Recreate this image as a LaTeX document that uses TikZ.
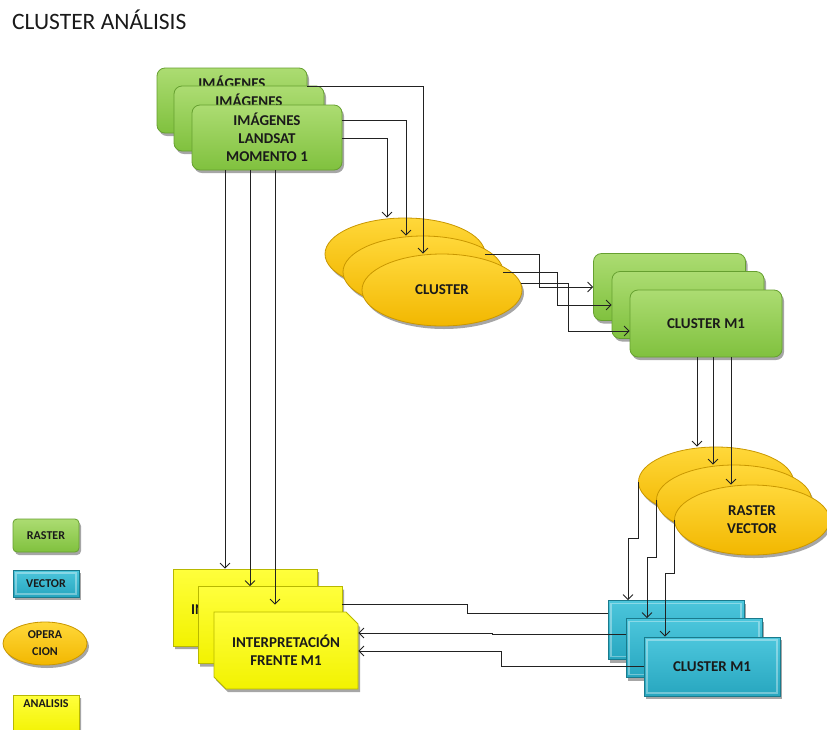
\documentclass[tikz,border=0pt]{standalone}
\usepackage{fontspec}
\setmainfont{Carlito}
\usetikzlibrary{shapes.geometric,shapes.misc,shadows,arrows.meta}
\definecolor{gtop}{HTML}{ACDC72}
\definecolor{gbot}{HTML}{80C13E}
\definecolor{gbrd}{HTML}{66A030}
\definecolor{otop}{HTML}{FFD83A}
\definecolor{obot}{HTML}{F2B700}
\definecolor{obrd}{HTML}{C99700}
\definecolor{ytop}{HTML}{FFFF3C}
\definecolor{ybot}{HTML}{F2F200}
\definecolor{ybrd}{HTML}{B8B800}
\definecolor{btop}{HTML}{4CC6DC}
\definecolor{bbot}{HTML}{27A6BF}
\definecolor{bbrd}{HTML}{1A7A8C}
\definecolor{ink}{HTML}{1A1A1A}
\definecolor{wire}{HTML}{222222}
\tikzset{
  boxtext/.style={text=ink, font=\bfseries\fontsize{15}{18}\selectfont, align=center, inner sep=0pt},
  shadowed/.style={drop shadow={shadow xshift=2pt, shadow yshift=-3pt, opacity=0.35, fill=black}},
  gbox/.style={boxtext, shadowed, rectangle, rounded corners=8pt, draw=gbrd, line width=0.8pt,
    top color=gtop, bottom color=gbot, minimum width=150pt, minimum height=65pt},
  gbig/.style={gbox, minimum width=152pt, minimum height=67pt},
  ovalnode/.style={boxtext, shadowed, ellipse, draw=obrd, line width=0.8pt,
    top color=otop, bottom color=obot, minimum width=160pt, minimum height=72pt},
  ovalrv/.style={ovalnode, minimum width=155pt, minimum height=70pt},
  ybox/.style={boxtext, shadowed, chamfered rectangle, chamfered rectangle corners={north east,south west},
    chamfered rectangle xsep=6pt, chamfered rectangle ysep=6pt, draw=ybrd, line width=0.8pt,
    top color=ytop, bottom color=ybot, minimum width=144pt, minimum height=77pt},
  bbox/.style={boxtext, shadowed, rectangle, draw=bbrd, line width=0.8pt,
    top color=btop, bottom color=bbot, minimum width=136pt, minimum height=59pt,
    path picture={\draw[white, opacity=0.35, line width=1.2pt]
      ([shift={(3pt,-3pt)}]path picture bounding box.north west) rectangle
      ([shift={(-3pt,3pt)}]path picture bounding box.south east);}},
  legtext/.style={font=\bfseries\fontsize{12}{17}\selectfont},
  arr/.style={draw=wire, line width=0.8pt, -{Straight Barb[length=5pt,width=10pt]}},
  wireline/.style={draw=wire, line width=0.8pt}
}
\begin{document}
\begin{tikzpicture}[x=1pt,y=-1pt]
\useasboundingbox (0,0) rectangle (827,729);
\fill[white] (0,0) rectangle (827,729);

% title
\node[anchor=west, text=ink, font=\fontsize{23.5}{26}\selectfont, inner sep=0pt] (title) at (12,20) {CLUSTER ANÁLISIS};

% images stack
\node[gbox] (img3) at (232,100.5) {IMÁGENES\\LANDSAT\\MOMENTO 1};
\node[gbox] (img2) at (249,118.5) {IMÁGENES\\LANDSAT\\MOMENTO 1};
\node[gbox] (img1) at (267,137.5) {IMÁGENES\\LANDSAT\\MOMENTO 1};

% cluster ellipses
\node[ovalnode] (cl3) at (405,254) {};
\node[ovalnode] (cl2) at (423,272) {};
\node[ovalnode] (cl1) at (442,290) {CLUSTER};

% cluster M1 raster
\node[gbig] (m3) at (669.5,287) {};
\node[gbig] (m2) at (688,305) {};
\node[gbig] (m1) at (706,323.5) {CLUSTER M1};

% raster vector ellipses
\node[ovalrv] (rv3) at (716,482) {};
\node[ovalrv] (rv2) at (734,500) {};
\node[ovalrv] (rv1) at (752,520) {RASTER\\VECTOR};

% cluster M1 vector
\node[bbox] (b3) at (676,630) {};
\node[bbox] (b2) at (694,648) {};
\node[bbox] (b1) at (712,666.5) {CLUSTER M1};

% interpretation stack
\node[ybox] (y3) at (245,607.5) {};
\node[boxtext] (y3t) at (245,617) {INTERPRETACIÓN\\FRENTE M1};
\node[ybox] (y2) at (270,625) {};
\node[ybox] (y1) at (286,650.5) {INTERPRETACIÓN\\FRENTE M1};

% legend
\node[gbox, legtext, minimum width=66pt, minimum height=33pt, rounded corners=4pt] (lr) at (46,535.5) {RASTER};
\node[bbox, legtext, minimum width=66pt, minimum height=27pt] (lv) at (46,583.5) {VECTOR};
\node[ovalnode, legtext, minimum width=84pt, minimum height=43pt] (lo) at (45,643.5) {OPERA\\CION};
\node[ybox, minimum width=66pt, minimum height=40pt, chamfered rectangle xsep=4pt, chamfered rectangle ysep=4pt] (la) at (46,715) {};
\node[legtext, text=ink, inner sep=0pt] (latext) at (46,704) {ANALISIS};

% connectors: images -> cluster
\draw[arr] ([yshift=13.8pt]img3.east) -| ([xshift=-19pt]cl1.north);
\draw[arr] ([yshift=17.5pt]img1.east) -| ([xshift=-17pt]cl2.north);
\draw[arr] ([yshift=-0.5pt]img1.east) -| ([xshift=-18pt]cl3.north);

% cluster -> cluster M1
\draw[arr] (cl3.east) -- ++(54,0) |- (m3.west);
\draw[arr] (cl2.east) -- ++(54,0) |- (m2.west);
\draw[arr] (cl1.5) -- ++(47.4,0) |- ([yshift=-7.5pt]m1.west);

% cluster M1 -> raster vector
\draw[arr] ([xshift=-9pt]m1.south) -- ([xshift=-9pt]m1.south |- rv3.north);
\draw[arr] ([xshift=7pt]m1.south) -- ([xshift=7pt]m1.south |- rv2.north);
\draw[arr] ([xshift=25pt]m1.south) -- ([xshift=25pt]m1.south |- rv1.north);

% raster vector -> cluster M1 vector
\draw[arr] (rv3.west) -- ++(0,56) -| ([xshift=-48pt]b3.north);
\draw[arr] (rv2.west) -- ++(0,57) -| ([xshift=-47pt]b2.north);
\draw[arr] (rv1.west) -- ++(0,53) -| ([xshift=-47pt]b1.north);

% vector -> interpretation
\draw[wireline] ([yshift=17pt]b3.west) -- ++(-140,0) |- ([yshift=21pt]y2.east);
\draw[arr] ([yshift=14pt]b2.west) -- ++(-133,0) |- ([yshift=17.5pt]y1.east);
\draw[arr] (b1.west) -- ++(-142,0) |- ([yshift=-0.5pt]y1.east);

% images -> interpretation
\draw[arr] ([xshift=-42pt]img1.south) -- ([xshift=-42pt]img1.south |- y3.north);
\draw[arr] ([xshift=-17pt]img1.south) -- ([xshift=-17pt]img1.south |- y2.north);
\draw[arr] ([xshift=8pt]img1.south) -- ([xshift=8pt,yshift=7pt]img1.south |- y1.north);
\end{tikzpicture}
\end{document}
